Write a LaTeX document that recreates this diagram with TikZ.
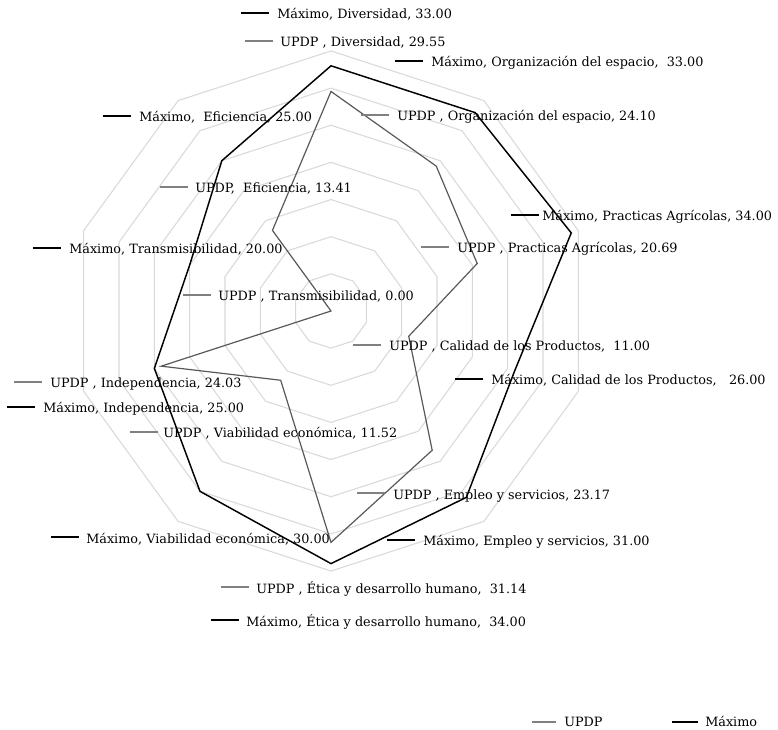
\documentclass[tikz,border=0pt]{standalone}
\usepackage{fontspec}
\setmainfont{DejaVu Serif}
\usepackage{tikz}

\definecolor{rejilla}{RGB}{217,217,217}
\definecolor{updp}{RGB}{89,89,89}
\definecolor{updpkey}{RGB}{128,128,128}
\newcommand{\escala}{7.43}

\tikzset{
  lbl/.style={anchor=base west, inner sep=0pt, font=\fontsize{9.6}{11}\selectfont},
  anillo/.style={draw=rejilla, line width=0.8pt},
  maximo/.style={draw=black, line width=1.1pt, line join=miter},
  serieu/.style={draw=updp, line width=0.9pt, line join=miter},
  maxkey/.style={draw=black, line width=1pt},
  upkey/.style={draw=updpkey, line width=1pt}
}

\begin{document}
\begin{tikzpicture}[x=0.75pt,y=-0.75pt]
\useasboundingbox (0,0) rectangle (778,730);
\begin{scope}[shift={(331,311)}]
% anillos de la rejilla, cada 5 unidades
\foreach \r in {1,...,7} {
\draw[anillo] (-90:\r*5*\escala) \foreach \k in {1,...,9} { -- (-90+36*\k:\r*5*\escala)} -- cycle;
}
% series (primer eje: Diversidad, arriba)
\draw[serieu] (-90:29.55*\escala) \foreach \v [count=\k] in {24.10,20.69,11.00,23.17,31.14,11.52,24.03,0.00,13.41} { -- (-90+36*\k:\v*\escala)} -- cycle;
\draw[maximo] (-90:33*\escala) \foreach \v [count=\k] in {33,34,26,31,34,30,25,20,25} { -- (-90+36*\k:\v*\escala)} -- cycle;
\end{scope}

% etiquetas UPDP
\foreach \kx/\ky/\tx/\txt [count=\i] in {
245/41/280/{UPDP , Diversidad, 29.55},
361/115/397/{UPDP , Organización del espacio, 24.10},
421/247/457/{UPDP , Practicas Agrícolas, 20.69},
353/345/389/{UPDP , Calidad de los Productos,\ \ 11.00},
357/493/393/{UPDP , Empleo y servicios, 23.17},
221/587/256/{UPDP , Ética y desarrollo humano,\ \ 31.14},
130/432/163/{UPDP , Viabilidad económica, 11.52},
14/382/50/{UPDP , Independencia, 24.03},
183/295/218/{UPDP , Transmisibilidad, 0.00},
160/187/195/{UPDP,\ \ Eficiencia, 13.41}} {
\draw[upkey] (\kx,\ky) -- ++(28,0);
\node[lbl] (up\i) at (\tx,\ky+6) {\txt};
}

% etiquetas Maximo
\foreach \kx/\ky/\tx/\txt [count=\i] in {
241/13/277/{Máximo, Diversidad, 33.00},
395/61/431/{Máximo, Organización del espacio,\ \ 33.00},
511/215/542/{Máximo, Practicas Agrícolas, 34.00},
455/379/491/{Máximo, Calidad de los Productos,\ \ \ 26.00},
387/540/423/{Máximo, Empleo y servicios, 31.00},
211/620/246/{Máximo, Ética y desarrollo humano,\ \ 34.00},
51/537/86/{Máximo, Viabilidad económica, 30.00},
7/407/43/{Máximo, Independencia, 25.00},
33/248/69/{Máximo, Transmisibilidad, 20.00},
103/116/139/{Máximo,\ \ Eficiencia, 25.00}} {
\draw[maxkey] (\kx,\ky) -- ++(28,0);
\node[lbl] (max\i) at (\tx,\ky+6) {\txt};
}

% leyenda
\draw[upkey] (532,722) -- ++(24,0);
\node[lbl] (leyUPDP) at (564,726) {UPDP};
\draw[maxkey] (672,722) -- ++(26,0);
\node[lbl] (leyMax) at (705,726) {Máximo};
\end{tikzpicture}
\end{document}
